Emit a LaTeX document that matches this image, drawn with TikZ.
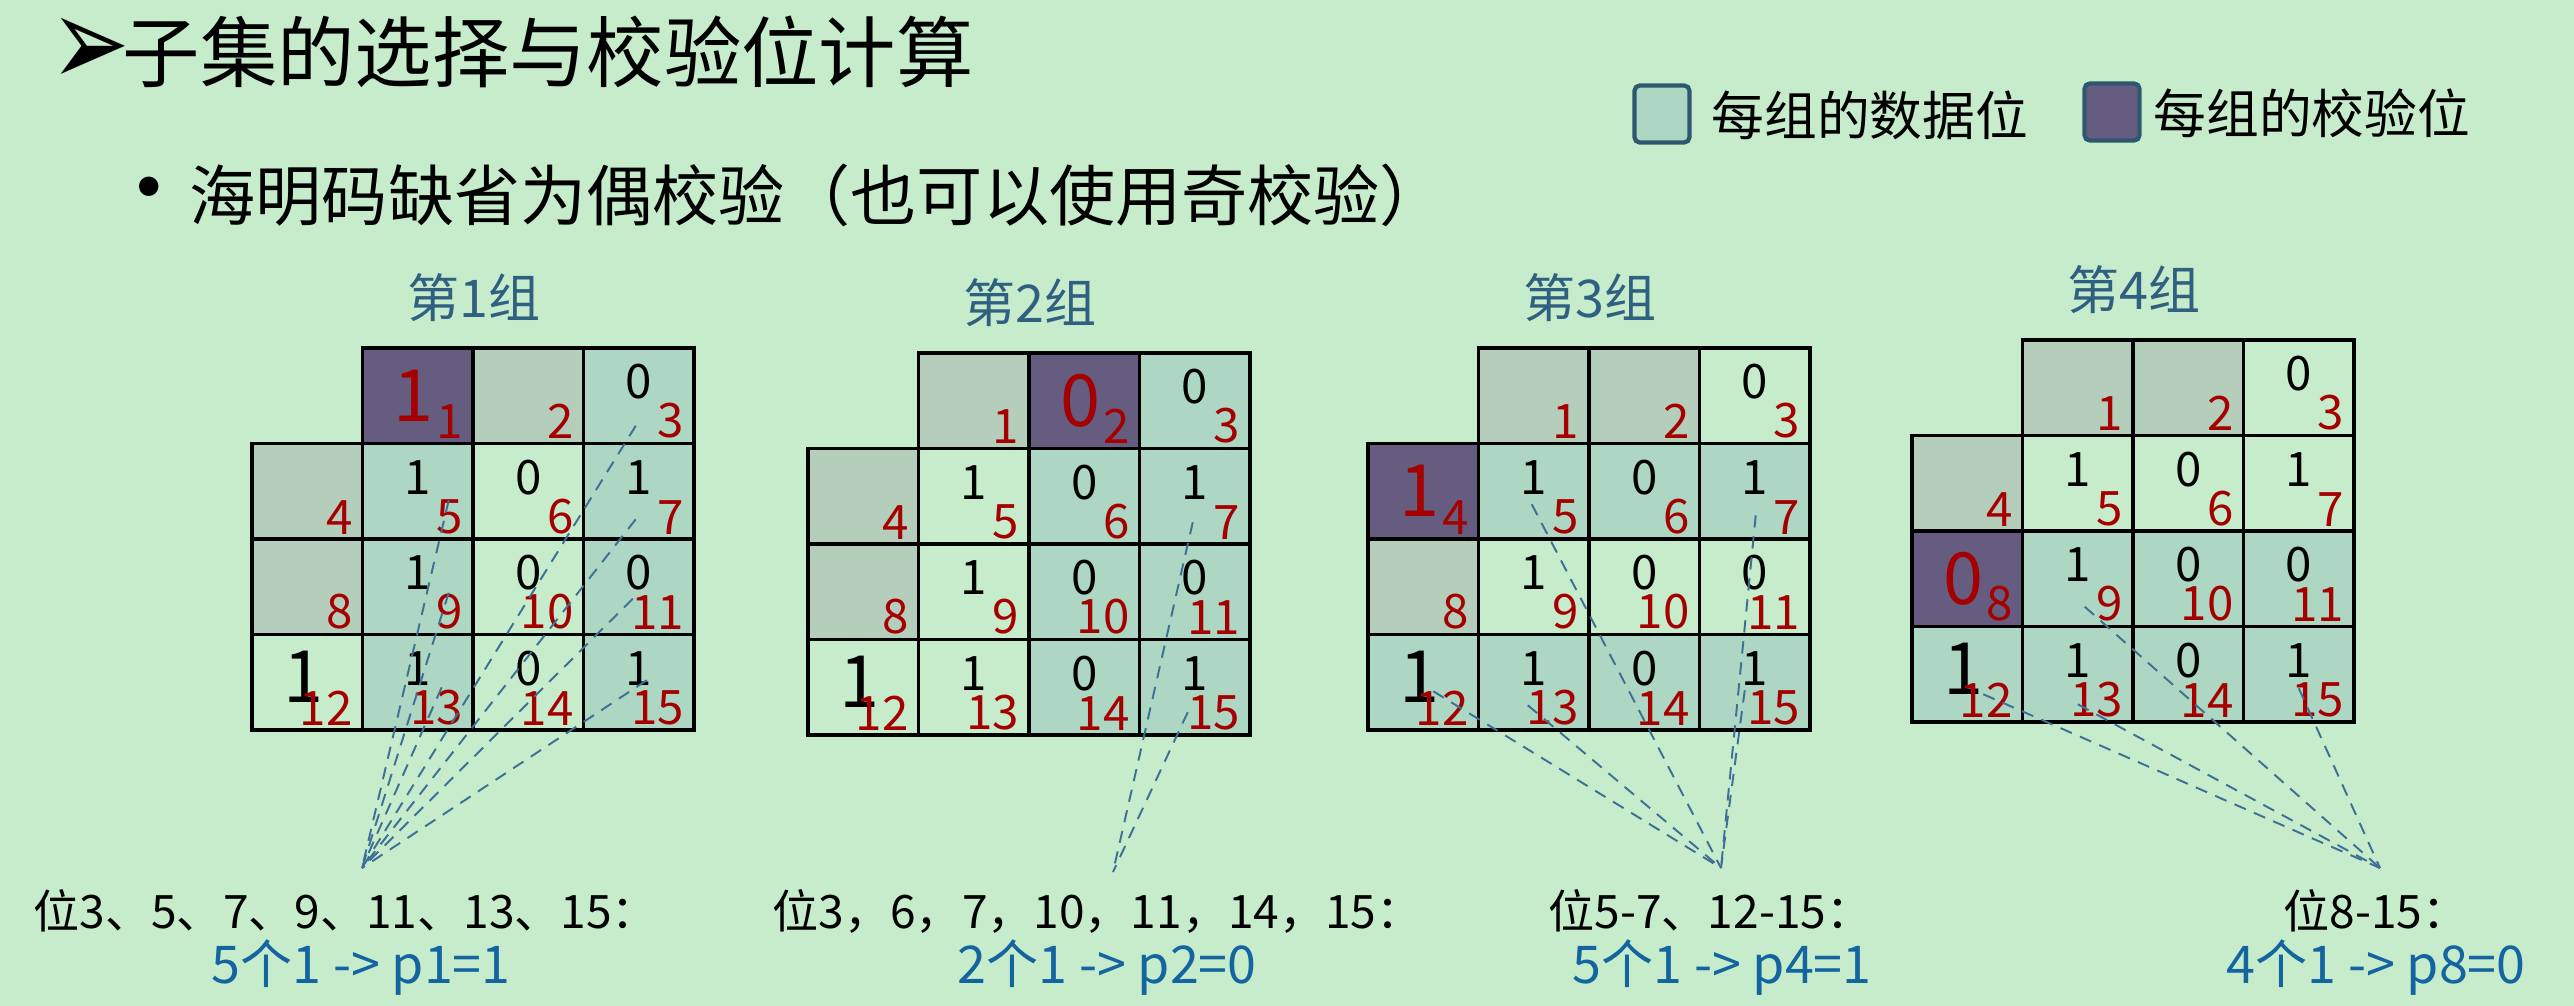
\documentclass[tikz,border=0pt]{standalone}
\usepackage{fontspec}
\setmainfont{Noto Sans CJK SC}
\newfontfamily\symfont{DejaVu Sans}
\usetikzlibrary{calc,positioning}

\definecolor{bgcol}{RGB}{199,236,204}
\definecolor{datafill}{RGB}{173,214,195}
\definecolor{sparefill}{RGB}{181,206,188}
\definecolor{checkfill}{RGB}{101,92,128}
\definecolor{idxred}{RGB}{165,0,0}
\definecolor{grptext}{RGB}{47,96,128}
\definecolor{fanblue}{RGB}{62,112,150}
\definecolor{resblue}{RGB}{20,100,160}
\definecolor{keyedge}{RGB}{46,88,112}

\tikzset{
  cell/.style={draw=black,line width=1pt,minimum width=1.105cm,minimum height=0.955cm,inner sep=0pt},
  val/.style={font=\fontsize{13.5}{16}\selectfont,inner sep=0pt},
  bigval/.style={font=\fontsize{20.5}{24}\selectfont,inner sep=0pt},
  idx/.style={font=\fontsize{13.5}{16}\selectfont,text=idxred,inner sep=0pt,anchor=south east},
  grp/.style={font=\fontsize{14.8}{17}\selectfont,text=grptext,inner sep=0pt},
  fan/.style={draw=fanblue,line width=0.55pt,dash pattern=on 3.5pt off 2.5pt},
  keybox/.style={draw=keyedge,line width=1.2pt,rounded corners=1.5pt,minimum width=0.55cm,minimum height=0.57cm,inner sep=0pt},
  keytext/.style={font=\fontsize{15}{18}\selectfont,anchor=west,inner sep=0pt},
  sel/.style={font=\fontsize{13.1}{15}\selectfont,anchor=west,inner sep=0pt},
  res/.style={font=\fontsize{14.8}{17}\selectfont,text=resblue,anchor=west,inner sep=0pt},
}

\begin{document}
\begin{tikzpicture}[x=0.01cm,y=-0.01cm]

\path[use as bounding box,fill=bgcol] (0,0) rectangle (2574,1006);

% heading and bullet line
\node[font=\symfont\fontsize{27}{30}\selectfont,inner sep=0pt] (mark) at (90,52) {\scalebox{1}[1.35]{➢}};
\node[font=\fontsize{22}{26}\selectfont,anchor=west,inner sep=0pt] (title) at (122,52) {子集的选择与校验位计算};
\node[font=\fontsize{26}{30}\selectfont,anchor=base,inner sep=0pt] (dot) at (149,221) {•};
\node[font=\fontsize{18.8}{22}\selectfont,anchor=west,inner sep=0pt] (sub) at (189,195) {海明码缺省为偶校验（也可以使用奇校验）};

% legend
\node[keybox,fill=datafill] (keydata) at (1662,114) {};
\node[keytext] (keydatatxt) at (1711,115) {每组的数据位};
\node[keybox,fill=checkfill] (keycheck) at (2112,112) {};
\node[keytext] (keychecktxt) at (2153,113) {每组的校验位};

% the four groups: bit n sits in row n/4, column n mod 4
\foreach \gi/\pb/\ox/\oy in {1/1/252/348,2/2/808/353,3/4/1368/348,4/8/1912/340}{
  \node[grp] (head\gi) at (\ox+222,\oy-50) {第\gi{}组};
  \foreach \n in {1,...,15}{
    \pgfmathtruncatemacro\col{mod(\n,4)}
    \pgfmathtruncatemacro\row{floor(\n/4)}
    \pgfmathtruncatemacro\isin{mod(floor(\n/\pb),2)}
    \pgfmathtruncatemacro\ispar{(\n==1)||(\n==2)||(\n==4)||(\n==8)}
    \pgfmathtruncatemacro\bit{{0,1,0,0,1,1,0,1,0,1,0,0,1,1,0,1}[\n]}
    \def\cfill{none}
    \ifnum\isin=1 \def\cfill{datafill}\fi
    \ifnum\ispar=1 \def\cfill{sparefill}\fi
    \ifnum\n=\pb \def\cfill{checkfill}\fi
    \node[cell,fill=\cfill] (g\gi-\n) at ({\ox+(\col+0.5)*110.5},{\oy+(\row+0.5)*95.5}) {};
    \ifnum\n=\pb
      \node[bigval,text=idxred] at ($(g\gi-\n)+(-4,0)$) {\bit};
    \else\ifnum\ispar=0
      \ifnum\n=12
        \node[bigval] at ($(g\gi-\n)+(-4,-5)$) {\bit};
      \else
        \node[val] at ($(g\gi-\n)+(0,-14)$) {\bit};
      \fi
    \fi\fi
    \node[idx] at ($(g\gi-\n.south east)+(-11,-6)$) {\n};
  }
}

% selected bits and results
\node[sel] (sel1) at (33,911) {位3、5、7、9、11、13、15：};
\node[res] (res1) at (211,968) {5个1 -> p1=1};
\node[sel] (sel2) at (772,911) {位3，6，7，10，11，14，15：};
\node[res] (res2) at (957,968) {2个1 -> p2=0};
\node[sel] (sel3) at (1548,911) {位5-7、12-15：};
\node[res] (res3) at (1572,968) {5个1 -> p4=1};
\node[sel] (sel4) at (2283,911) {位8-15：};
\node[res] (res4) at (2226,968) {4个1 -> p8=0};

\coordinate (tip1) at (362,868);
\coordinate (tip2) at (1113,872);
\coordinate (tip3) at (1721,868);
\coordinate (tip4) at (2380,868);

% dashed fans
\foreach \gi/\n/\dx/\dy in {1/3/-3/30,1/5/31/9,1/7/-3/28,1/9/31/6,1/11/-6/12,1/13/24/5,1/15/8/-2,
  2/7/-2/26,2/15/-7/25,
  3/5/-2/13,3/7/1/24,3/12/10/9,3/13/-6/23,3/15/-10/8,
  4/9/7/28,4/12/16/20,4/13/0/30,4/15/0/14}
  \draw[fan] ($(g\gi-\n)+(\dx,\dy)$) -- (tip\gi);

\end{tikzpicture}
\end{document}
